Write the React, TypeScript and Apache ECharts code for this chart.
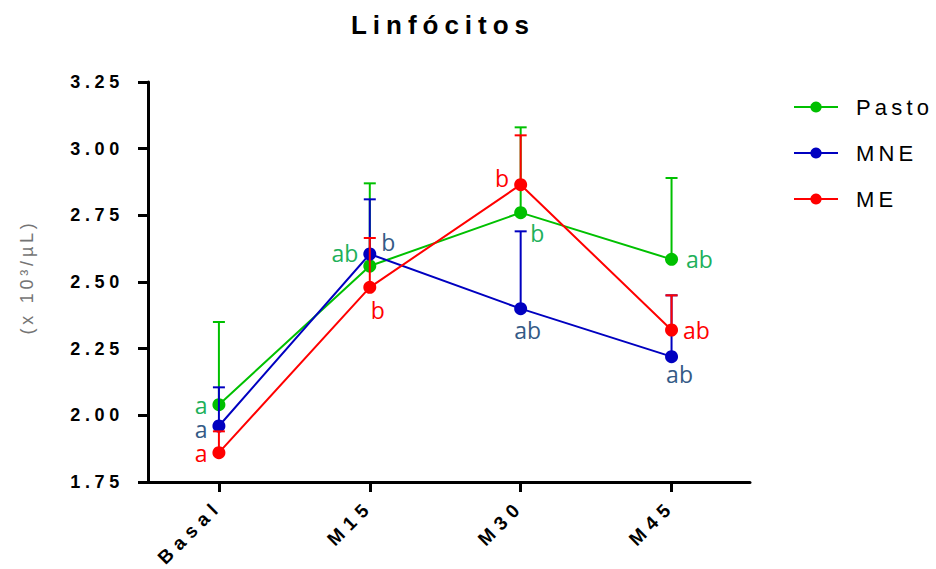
import React, { useEffect, useRef } from 'react';
import * as echarts from 'echarts';

const categories = ['Basal', 'M15', 'M30', 'M45'];
const seriesNames = ['Pasto', 'MNE', 'ME'];
const pastoMean = [2.04, 2.56, 2.76, 2.585];
const pastoUpper = [2.35, 2.87, 3.08, 2.89];
const mneMean = [1.96, 2.605, 2.4, 2.22];
const mneUpper = [2.105, 2.81, 2.69, 2.45];
const meMean = [1.86, 2.48, 2.865, 2.32];
const meUpper = [1.94, 2.665, 3.05, 2.45];
const pastoLetters = ['a', 'ab', 'b', 'ab'];
const mneLetters = ['a', 'b', 'ab', 'ab'];
const meLetters = ['a', 'b', 'b', 'ab'];

// label placement (style only)
const pastoLabelPos: [string, number[]][] = [['left', [0, 0]], ['left', [0, -13]], ['right', [-2, 20]], ['right', [3, 0]]];
const mneLabelPos: [string, number[]][] = [['left', [0, 3]], ['right', [0, -12]], ['bottom', [7, 1]], ['bottom', [8, -3]]];
const meLabelPos: [string, number[]][] = [['left', [0, 0]], ['bottom', [8, 2]], ['left', [0, -7]], ['right', [0, 0]]];

const lineColors = ['#00c000', '#0000c0', '#ff0000'];
const letterColors = ['#20b05a', '#345a86', '#ff0000'];

export default function App() {
  const ref = useRef<HTMLDivElement>(null);
  useEffect(() => {
    if (!ref.current) return;
    const chart = echarts.init(ref.current, null, { renderer: 'svg' });
    const means = [pastoMean, mneMean, meMean];
    const uppers = [pastoUpper, mneUpper, meUpper];
    const letters = [pastoLetters, mneLetters, meLetters];
    const poss = [pastoLabelPos, mneLabelPos, meLabelPos];
    const series: any[] = [];
    seriesNames.forEach((name, s) => {
      const color = lineColors[s];
      series.push({
        name: name + ' SEM',
        type: 'custom',
        z: 2 + s * 2,
        data: means[s].map((m, i) => [i, m, uppers[s][i]]),
        encode: { x: 0, y: [1, 2] },
        renderItem: (params: any, api: any) => {
          const x = api.value(0);
          const p0 = api.coord([x, api.value(1)]);
          const p1 = api.coord([x, api.value(2)]);
          const hw = 6;
          return {
            type: 'group',
            children: [
              { type: 'line', shape: { x1: p0[0], y1: p0[1], x2: p1[0], y2: p1[1] }, style: { stroke: color, lineWidth: 2 } },
              { type: 'line', shape: { x1: p1[0] - hw, y1: p1[1], x2: p1[0] + hw, y2: p1[1] }, style: { stroke: color, lineWidth: 2 } },
            ],
          };
        },
      });
      series.push({
        name,
        type: 'line',
        z: 3 + s * 2,
        symbol: 'circle',
        symbolSize: 13,
        color,
        lineStyle: { width: 2, color },
        itemStyle: { color },
        data: means[s].map((m, i) => ({
          value: [i, m],
          label: {
            show: true,
            formatter: letters[s][i],
            position: poss[s][i][0],
            offset: poss[s][i][1],
            distance: 5,
            color: letterColors[s],
            fontFamily: 'Open Sans',
            fontSize: 23,
            lineHeight: 18,
          },
        })),
      });
    });

    chart.setOption({
      animation: false,
      backgroundColor: '#ffffff',
      graphic: [
        {
          type: 'text',
          x: 443,
          y: 25,
          style: {
            text: 'Linfócitos',
            fill: '#000',
            fontSize: 26,
            fontWeight: 'bold',
            fontFamily: 'Liberation Sans',
            align: 'center',
            verticalAlign: 'middle',
          },
        },
      ],
      legend: {
        orient: 'vertical',
        left: 788,
        top: 91,
        itemWidth: 44,
        itemHeight: 14,
        itemGap: 24,
        data: seriesNames,
        textStyle: { fontSize: 22, fontFamily: 'Liberation Sans', color: '#000', padding: [0, 0, 0, 13] },
      },
      grid: { left: 148, top: 82, width: 602, height: 400, outerBoundsMode: 'none' },
      xAxis: {
        type: 'value',
        min: -0.47,
        max: 3.52,
        splitLine: { show: false },
        axisLine: { onZero: false, lineStyle: { color: '#000', width: 3 } },
        axisTick: { show: true, length: 10, lineStyle: { color: '#000', width: 3 }, customValues: [0, 1, 2, 3] },
        axisLabel: {
          customValues: [0, 1, 2, 3],
          formatter: (v: number) => categories[Math.round(v)] ?? '',
          rotate: 45,
          margin: 21,
          color: '#000',
          fontSize: 19,
          fontWeight: 'bold',
          fontFamily: 'Liberation Sans',
        },
      },
      yAxis: {
        type: 'value',
        min: 1.75,
        max: 3.25,
        interval: 0.25,
        name: '(x 10³/µL)',
        nameLocation: 'middle',
        nameGap: 112,
        nameRotate: 90,
        nameTextStyle: { color: '#747474', fontSize: 18, fontWeight: 'normal', fontFamily: 'Liberation Sans', padding: [0, 0, 0, 10] },
        splitLine: { show: false },
        axisLine: { show: true, onZero: false, lineStyle: { color: '#000', width: 3 } },
        axisTick: { show: true, length: 10, lineStyle: { color: '#000', width: 3 } },
        axisLabel: {
          formatter: (v: number) => v.toFixed(2),
          margin: 24,
          color: '#000',
          fontSize: 18,
          fontWeight: 'bold',
          fontFamily: 'Liberation Sans',
        },
      },
      series,
    });
    return () => chart.dispose();
  }, []);
  const css = `
    .lc text[style*="26px"] { letter-spacing: 0.23em; }
    .lc text[style*="22px"] { letter-spacing: 0.19em; }
    .lc text[style*="19px"] { letter-spacing: 0.33em; }
    .lc text[style*="18px"] { letter-spacing: 0.21em; }
    .lc text[style*="bold"][style*="18px"] { letter-spacing: 0.26em; }
    .lc text[style*="Open Sans"] { letter-spacing: 0; }
  `;
  return (
    <>
      <style>{css}</style>
      <div ref={ref} className="lc" style={{ position: 'fixed', left: 0, top: 0, width: 936, height: 569 }} />
    </>
  );
}
